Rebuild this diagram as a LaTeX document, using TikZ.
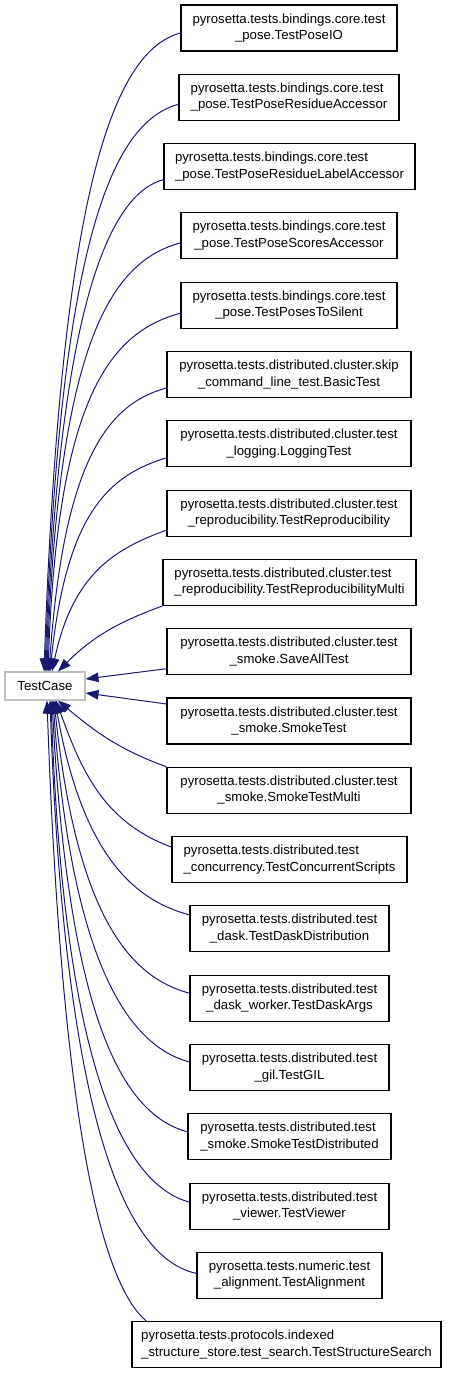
\documentclass[tikz,border=0pt]{standalone}
\usepackage{fontspec}
\setmainfont{Liberation Sans}
\usetikzlibrary{arrows.meta}
\definecolor{edgeblue}{HTML}{191970}
\definecolor{basegray}{HTML}{BFBFBF}
\newlength\lblwa
\newlength\lblwb
\newcommand\lbl[2]{\settowidth\lblwa{#1}\settowidth\lblwb{#2}\ifdim\lblwb>\lblwa\lblwa=\lblwb\fi
  \begin{tabular}{@{}c@{}}\makebox[\lblwa][l]{#1}\\#2\end{tabular}}
\newcommand\lblfont{\fontsize{13.2}{16.5}\selectfont}
\tikzset{
  box/.style={draw=black, line width=1.1pt, fill=white, minimum height=46pt, inner sep=0pt, font=\lblfont},
  basebox/.style={draw=basegray, line width=1.1pt, fill=white, minimum height=28pt, minimum width=80pt, inner sep=0pt, font=\lblfont},
  edge/.style={draw=edgeblue, line width=1pt, -{Triangle[length=13pt,width=9.5pt]}, edgeblue}
}
\begin{document}
\begin{tikzpicture}[x=1pt,y=1pt]
\useasboundingbox (0,0) rectangle (451,-1373);
\node[basebox] (tc) at (45,-686) {TestCase};
\node[box, minimum width=216pt] (n1) at (289,-28) {\lbl{pyrosetta.tests.bindings.core.test}{\_pose.TestPoseIO}};
\node[box, minimum width=220pt] (n2) at (289,-97.3) {\lbl{pyrosetta.tests.bindings.core.test}{\_pose.TestPoseResidueAccessor}};
\node[box, minimum width=251pt] (n3) at (289.5,-166.6) {\lbl{pyrosetta.tests.bindings.core.test}{\_pose.TestPoseResidueLabelAccessor}};
\node[box, minimum width=216pt] (n4) at (289,-235.9) {\lbl{pyrosetta.tests.bindings.core.test}{\_pose.TestPoseScoresAccessor}};
\node[box, minimum width=216pt] (n5) at (289,-305.2) {\lbl{pyrosetta.tests.bindings.core.test}{\_pose.TestPosesToSilent}};
\node[box, minimum width=244pt] (n6) at (289,-374.5) {\lbl{pyrosetta.tests.distributed.cluster.skip}{\_command\_line\_test.BasicTest}};
\node[box, minimum width=244pt] (n7) at (289,-443.8) {\lbl{pyrosetta.tests.distributed.cluster.test}{\_logging.LoggingTest}};
\node[box, minimum width=244pt] (n8) at (289,-513.1) {\lbl{pyrosetta.tests.distributed.cluster.test}{\_reproducibility.TestReproducibility}};
\node[box, minimum width=253pt] (n9) at (289.5,-582.4) {\lbl{pyrosetta.tests.distributed.cluster.test}{\_reproducibility.TestReproducibilityMulti}};
\node[box, minimum width=244pt] (n10) at (289,-651.7) {\lbl{pyrosetta.tests.distributed.cluster.test}{\_smoke.SaveAllTest}};
\node[box, minimum width=244pt] (n11) at (289,-721) {\lbl{pyrosetta.tests.distributed.cluster.test}{\_smoke.SmokeTest}};
\node[box, minimum width=244pt] (n12) at (289,-790.3) {\lbl{pyrosetta.tests.distributed.cluster.test}{\_smoke.SmokeTestMulti}};
\node[box, minimum width=235pt] (n13) at (289.5,-859.6) {\lbl{pyrosetta.tests.distributed.test}{\_concurrency.TestConcurrentScripts}};
\node[box, minimum width=199pt] (n14) at (289.5,-928.9) {\lbl{pyrosetta.tests.distributed.test}{\_dask.TestDaskDistribution}};
\node[box, minimum width=199pt] (n15) at (289.5,-998.2) {\lbl{pyrosetta.tests.distributed.test}{\_dask\_worker.TestDaskArgs}};
\node[box, minimum width=199pt] (n16) at (289.5,-1067.5) {\lbl{pyrosetta.tests.distributed.test}{\_gil.TestGIL}};
\node[box, minimum width=203pt] (n17) at (289.5,-1136.8) {\lbl{pyrosetta.tests.distributed.test}{\_smoke.SmokeTestDistributed}};
\node[box, minimum width=199pt] (n18) at (289.5,-1206.1) {\lbl{pyrosetta.tests.distributed.test}{\_viewer.TestViewer}};
\node[box, minimum width=185pt] (n19) at (289.5,-1275.4) {\lbl{pyrosetta.tests.numeric.test}{\_alignment.TestAlignment}};
\node[box, minimum width=309pt] (n20) at (286.5,-1344.7) {\lbl{pyrosetta.tests.protocols.indexed}{\_structure\_store.test\_search.TestStructureSearch}};
% upper edges
\draw[edge] ([yshift=-5pt]n1.west) to[out=195,in=88,out distance=70pt,in distance=480pt] ([xshift=-1pt]tc.north);
\draw[edge] ([yshift=-7pt]n2.west) to[out=195,in=88,out distance=70pt,in distance=426pt] ([xshift=0pt]tc.north);
\draw[edge] ([yshift=-13pt]n3.west) to[out=195,in=88,out distance=55pt,in distance=369pt] ([xshift=1pt]tc.north);
\draw[edge] ([yshift=-7pt]n4.west) to[out=195,in=88,out distance=75pt,in distance=322pt] ([xshift=2pt]tc.north);
\draw[edge] ([yshift=-8pt]n5.west) to[out=195,in=88,out distance=75pt,in distance=270pt] ([xshift=3pt]tc.north);
\draw[edge] ([yshift=-13.5pt]n6.west) to[out=195,in=86,out distance=60pt,in distance=213pt] ([xshift=4pt]tc.north);
\draw[edge] ([yshift=-14pt]n7.west) to[out=197,in=84,out distance=60pt,in distance=160pt] ([xshift=5pt]tc.north);
\draw[edge] ([yshift=-17pt]n8.west) to[out=200,in=78,out distance=55pt,in distance=100pt] ([xshift=7pt]tc.north);
\draw[edge] (n9.south west) to[out=200,in=45] ([xshift=13pt]tc.north);
\draw[edge] ([yshift=-17pt]n10.west) -- ([yshift=7pt]tc.east);
\draw[edge] ([yshift=17pt]n11.west) -- ([yshift=-7pt]tc.east);
% lower edges
\draw[edge] (n12.north west) to[out=160,in=-40] ([xshift=13pt]tc.south);
\draw[edge] ([yshift=12.6pt]n13.west) to[out=160,in=-70] ([xshift=11pt]tc.south);
\draw[edge] ([yshift=14pt]n14.west) to[out=165,in=-80,out distance=55pt,in distance=160pt] ([xshift=10pt]tc.south);
\draw[edge] ([yshift=5pt]n15.west) to[out=165,in=-84,out distance=60pt,in distance=220pt] ([xshift=9pt]tc.south);
\draw[edge] ([yshift=5.5pt]n16.west) to[out=165,in=-86,out distance=60pt,in distance=270pt] ([xshift=8pt]tc.south);
\draw[edge] ([yshift=5pt]n17.west) to[out=165,in=-87,out distance=65pt,in distance=324pt] ([xshift=7pt]tc.south);
\draw[edge] ([yshift=4pt]n18.west) to[out=165,in=-88,out distance=65pt,in distance=376pt] ([xshift=6pt]tc.south);
\draw[edge] ([yshift=2pt]n19.west) to[out=168,in=-88,out distance=70pt,in distance=430pt] ([xshift=5pt]tc.south);
\draw[edge] ([xshift=15pt]n20.north west) to[out=140,in=-88,out distance=50pt,in distance=460pt] ([xshift=2pt]tc.south);
\end{tikzpicture}
\end{document}
